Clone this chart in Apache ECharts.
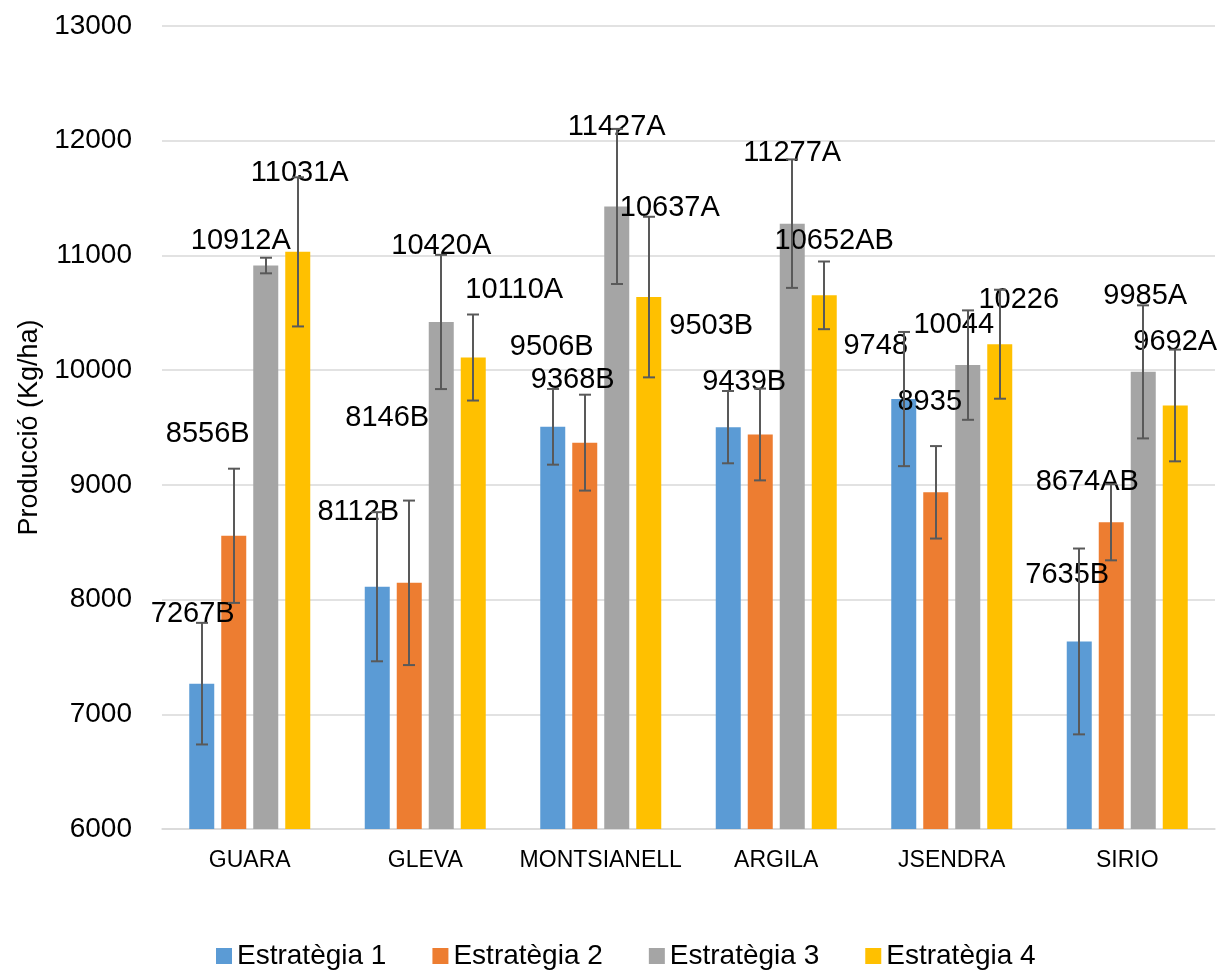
<!DOCTYPE html>
<html>
<head>
<meta charset="utf-8">
<script src="https://cdn.jsdelivr.net/npm/echarts@6/dist/echarts.min.js"></script>
<style>
  html, body { margin: 0; padding: 0; background: #ffffff; }
  #chart { width: 1221px; height: 970px; }
</style>
</head>
<body>
<div id="chart"></div>
<script>
  // categories (varietats)
  const categories = ["GUARA", "GLEVA", "MONTSIANELL", "ARGILA", "JSENDRA", "SIRIO"];
  const seriesNames = ["Estratègia 1", "Estratègia 2", "Estratègia 3", "Estratègia 4"];

  // producció mitjana per estratègia
  const est1 = [7267, 8112, 9506, 9503, 9748, 7635];
  const est2 = [8556, 8146, 9368, 9439, 8935, 8674];
  const est3 = [10912, 10420, 11427, 11277, 10044, 9985];
  const est4 = [11031, 10110, 10637, 10652, 10226, 9692];

  // barres d'error (+/-)
  const err1 = [530, 650, 330, 315, 585, 810];
  const err2 = [585, 717, 418, 400, 403, 332];
  const err3 = [68, 585, 676, 560, 477, 580];
  const err4 = [650, 375, 700, 295, 475, 487];

  // lletres de significació
  const letters1 = ["B", "B", "B", "B", "", "B"];
  const letters2 = ["B", "B", "B", "B", "", "AB"];
  const letters3 = ["A", "A", "A", "A", "", "A"];
  const letters4 = ["A", "A", "A", "AB", "", "A"];

  // eix Y
  const yMin = 6000;
  const yMax = 13000;
  const yStep = 1000;

  // desplaçament manual de les etiquetes (px), com a l'original
  const shift1 = [[-9, -56], [-19, -61], [-1, -66], [-17, -87], [-28, -39], [-12, -52]];
  const shift2 = [[-26, -88], [-22, -151], [-12, -49], [-16, -38], [-6, -76], [-24, -26]];
  const shift3 = [[-25, -11], [0, -62], [0, -65], [0, -57], [-14, -26], [2, -62]];
  const shift4 = [[2, -65], [41, -54], [21, -75], [10, -40], [19, -30], [0, -49]];

  const colors = ["#5B9BD5", "#ED7D31", "#A5A5A5", "#FFC000"];
  const values = [est1, est2, est3, est4];
  const errors = [err1, err2, err3, err4];
  const letters = [letters1, letters2, letters3, letters4];
  const shifts = [shift1, shift2, shift3, shift4];

  const FONT = "'Liberation Sans', Arial, Helvetica, sans-serif";
  const BAR_W = 25;
  const BAR_STEP = 32; // amplada + separació

  const chart = echarts.init(document.getElementById("chart"));

  const barSeries = values.map((vals, s) => ({
    name: seriesNames[s],
    type: "bar",
    barWidth: BAR_W,
    barGap: "28%",
    z: 2,
    itemStyle: { color: colors[s] },
    label: {
      show: true,
      position: "top",
      distance: 0,
      color: "#000000",
      fontFamily: FONT,
      fontSize: 29,
      lineHeight: 28,
      formatter: (p) => p.value + letters[s][p.dataIndex],
    },
    data: vals.map((v, i) => ({
      value: v,
      label: { offset: shifts[s][i] },
    })),
  }));

  // barres d'error dibuixades amb una sèrie custom
  const errorSeries = values.map((vals, s) => ({
    name: seriesNames[s],
    type: "custom",
    z: 3,
    silent: true,
    data: vals.map((v, i) => [i, v, errors[s][i]]),
    renderItem: (params, api) => {
      const idx = api.value(0);
      const v = api.value(1);
      const e = api.value(2);
      const dx = (s - 1.5) * BAR_STEP;
      const hi = api.coord([idx, v + e]);
      const lo = api.coord([idx, v - e]);
      const x = Math.round(hi[0] + dx);
      const cap = 6;
      const style = { stroke: "#595959", lineWidth: 2 };
      return {
        type: "group",
        children: [
          { type: "line", shape: { x1: x, y1: hi[1], x2: x, y2: lo[1] }, style },
          { type: "line", shape: { x1: x - cap, y1: hi[1], x2: x + cap, y2: hi[1] }, style },
          { type: "line", shape: { x1: x - cap, y1: lo[1], x2: x + cap, y2: lo[1] }, style },
        ],
      };
    },
  }));

  const option = {
    backgroundColor: "#ffffff",
    animation: false,
    color: colors,
    grid: {
      left: 162,
      right: 6,
      top: 26,
      bottom: 141,
    },
    legend: {
      data: seriesNames,
      left: 211,
      top: 937,
      icon: "rect",
      itemWidth: 16,
      itemHeight: 16,
      itemGap: 46,
      textStyle: {
        color: "#000000",
        fontFamily: FONT,
        fontSize: 28,
      },
    },
    xAxis: {
      type: "category",
      data: categories,
      axisLine: { lineStyle: { color: "#D9D9D9", width: 1.5 } },
      axisTick: { show: false },
      axisLabel: {
        interval: 0,
        color: "#000000",
        fontFamily: FONT,
        fontSize: 23,
        margin: 20,
      },
    },
    yAxis: {
      type: "value",
      min: yMin,
      max: yMax,
      interval: yStep,
      name: "Producció (Kg/ha)",
      nameLocation: "middle",
      nameGap: 110,
      nameTextStyle: {
        color: "#000000",
        fontFamily: FONT,
        fontSize: 27,
      },
      axisLine: { show: false },
      axisTick: { show: false },
      axisLabel: {
        color: "#000000",
        fontFamily: FONT,
        fontSize: 28,
        margin: 30,
        formatter: (v) => String(v),
      },
      splitLine: { lineStyle: { color: "#D9D9D9", width: 1.5 } },
    },
    series: [...barSeries, ...errorSeries],
  };

  chart.setOption(option);
</script>
</body>
</html>
